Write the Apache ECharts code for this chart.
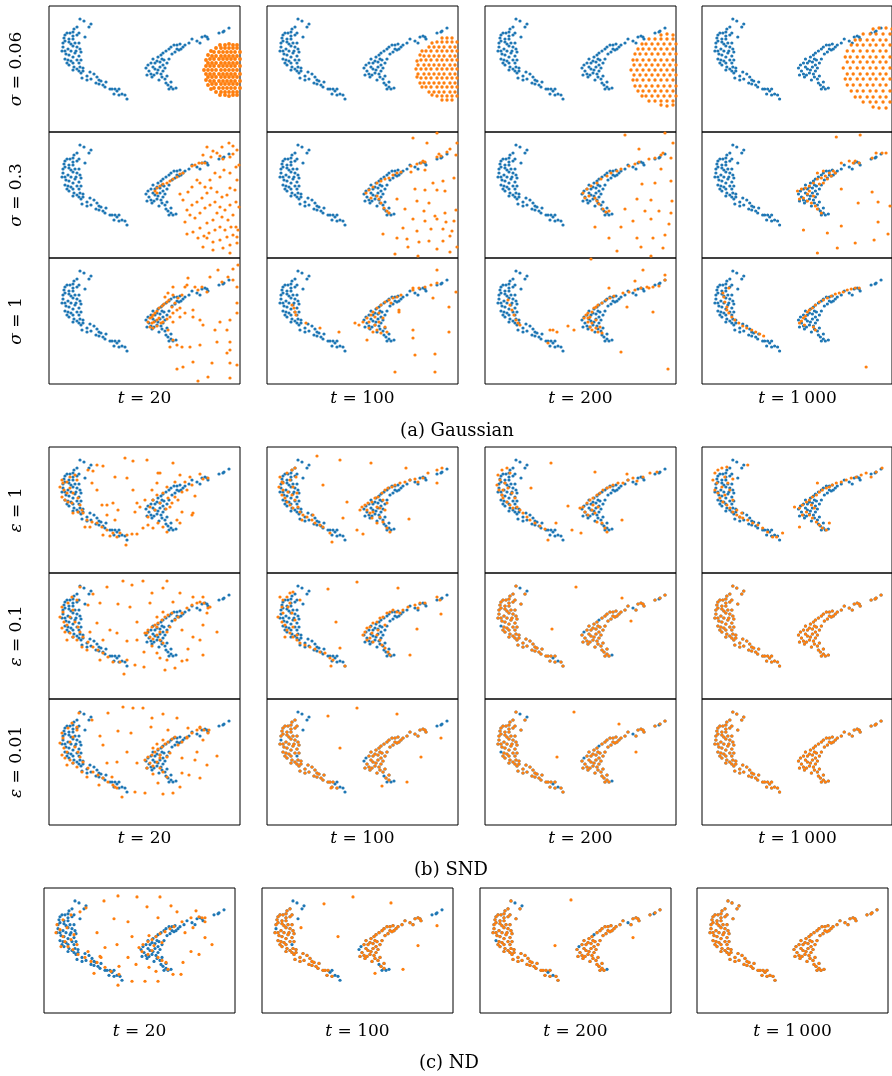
<!DOCTYPE html>
<html><head><meta charset="utf-8">
<script src="https://cdn.jsdelivr.net/npm/echarts@6/dist/echarts.min.js"></script>
<style>html,body{margin:0;padding:0;background:#fff}#c{width:892px;height:1076px}</style>
</head><body><div id="c"></div>
<script>
// ---- data (panel units: u 0..191 left->right, v 0..126 top->bottom) ----
const target = [31,13,35,15,42,18,40,21,28,21,25,23,24,26,21,27,18,27,16,29,24,30,28,29,30,27,36,31,15,32,20,33,24,33,16,35,20,36,14,37,22,38,26,37,30,37,14,41,24,40,28,41,31,43,19,43,13,45,16,45,22,45,27,45,32,46,26,47,17,48,20,49,24,51,30,50,16,53,19,54,22,55,28,54,32,54,18,57,24,57,30,57,20,59,25,61,31,61,28,63,34,62,30,65,34,65,41,66,24,64,32,67,45,68,38,70,33,72,48,71,42,73,38,74,50,74,52,75,57,76,50,78,54,79,47,77,56,81,61,83,63,83,66,83,70,83,68,85,73,88,65,88,76,89,78,93,70,89,
97,62,99,59,102,57,104,53,106,57,108,55,109,51,112,49,114,47,117,45,120,43,122,41,125,39,128,39,131,38,134,41,136,39,140,37,143,33,148,35,151,37,153,31,156,30,158,31,159,33,170,27,174,26,175,25,180,22,104,61,106,63,109,64,111,61,114,59,116,62,118,57,120,53,123,48,126,46,128,43,130,44,132,43,100,65,102,68,98,69,105,69,108,67,112,68,113,71,116,73,118,70,114,65,117,77,119,79,122,76,122,81,124,83,127,82,120,83,103,71,110,74,113,53,115,54,111,56];

const nearTargetA = [31,13,40,21,28,21,25,23,24,26,21,27,18,27,16,29,24,30,28,29,30,27,36,31,15,32,20,33,24,33,16,35,20,36,14,37,22,38,26,37,30,37,14,41,24,40,28,41,31,43,19,43,13,45,16,45,22,45,27,45,32,46,26,47,17,48,20,49,24,51,30,50,19,54,22,55,28,54,32,54,18,57,24,57,30,57,20,59,25,61,31,61,28,63,34,62,30,65,34,65,41,66,24,64,32,67,45,68,38,70,33,72,48,71,42,73,38,74,50,74,52,75,57,76,50,78,54,79,47,77,56,81,61,83,63,83,66,83,70,83,65,88,76,89,78,93,70,89,
97,62,102,57,104,53,106,57,108,55,109,51,112,49,117,45,120,43,122,41,125,39,128,39,131,38,134,41,136,39,140,37,143,33,151,37,153,31,156,30,158,31,159,33,170,27,175,25,180,22,104,61,106,63,109,64,111,61,114,59,116,62,118,57,120,53,123,48,126,46,128,43,130,44,132,43,100,65,102,68,98,69,105,69,108,67,112,68,113,71,116,73,118,70,114,65,117,77,119,79,122,76,122,81,124,83,120,83,103,71,110,74,113,53,115,54,111,56];

const nearTargetB = [28,21,25,23,24,26,21,27,18,27,16,29,24,30,28,29,30,27,15,32,20,33,24,33,16,35,20,36,14,37,22,38,26,37,30,37,24,40,28,41,31,43,19,43,13,45,16,45,22,45,27,45,32,46,26,47,17,48,20,49,24,51,30,50,16,53,19,54,22,55,28,54,32,54,18,57,24,57,20,59,25,61,31,61,28,63,34,62,30,65,34,65,41,66,24,64,32,67,45,68,38,70,33,72,48,71,42,73,38,74,50,74,52,75,57,76,50,78,54,79,47,77,56,81,61,83,63,83,66,83,65,88,70,89,
102,57,104,53,106,57,108,55,109,51,112,49,114,47,117,45,120,43,122,41,125,39,128,39,131,38,134,41,136,39,140,37,143,33,148,35,151,37,153,31,156,30,158,31,159,33,104,61,106,63,109,64,111,61,114,59,116,62,118,57,120,53,123,48,126,46,128,43,130,44,132,43,100,65,102,68,98,69,105,69,108,67,112,68,113,71,116,73,118,70,114,65,119,79,122,76,122,81,103,71,110,74,113,53,115,54,111,56];

// (a) Gaussian, sigma = 0.06
const g006_20 = [155,64,159,64,163,64,167,64,172,64,176,64,180,64,184,64,188,64,157,60,161,60,165,60,170,60,174,60,178,60,182,60,186,60,191,60,157,68,161,68,165,68,170,68,174,68,178,68,182,68,186,68,191,68,159,57,163,57,167,57,172,57,176,57,180,57,184,57,188,57,159,71,163,71,167,71,172,71,176,71,180,71,184,71,188,71,161,53,165,53,170,53,174,53,178,53,182,53,186,53,191,53,161,75,165,75,170,75,174,75,178,75,182,75,186,75,191,75,163,50,167,50,172,50,176,50,180,50,184,50,188,50,163,78,167,78,172,78,176,78,180,78,184,78,188,78,165,46,170,46,174,46,178,46,182,46,186,46,191,46,165,82,170,82,174,82,178,82,182,82,186,82,191,82,167,42,172,42,176,42,180,42,184,42,188,42,167,86,172,86,176,86,180,86,184,86,188,86,
157,54,157,74,159,49,159,79,162,45,162,83,171,39,176,39,180,38,184,39,188,39,171,89,176,89,180,90,184,89,188,89];
const g006_100 = [149,63,154,63,159,63,164,63,170,63,175,63,180,63,185,63,190,63,151,59,157,59,162,59,167,59,172,59,177,59,183,59,188,59,151,68,157,68,162,68,167,68,172,68,177,68,183,68,188,68,154,54,159,54,164,54,170,54,175,54,180,54,185,54,190,54,154,72,159,72,164,72,170,72,175,72,180,72,185,72,190,72,157,50,162,50,167,50,172,50,177,50,183,50,188,50,157,77,162,77,167,77,172,77,177,77,183,77,188,77,159,45,164,45,170,45,175,45,180,45,185,45,190,45,159,81,164,81,170,81,175,81,180,81,185,81,190,81,162,41,167,41,172,41,177,41,183,41,188,41,162,86,167,86,172,86,177,86,183,86,188,86,170,36,175,36,180,36,185,36,190,36,170,90,175,90,180,90,185,90,190,90,
150,55,150,71,153,49,153,77,155,45,155,81,165,37,165,89,175,32,180,32,185,32,175,94,180,94,185,94];
const g006_200 = [146,64,152,64,158,64,164,64,170,64,176,64,182,64,188,64,149,59,155,59,161,59,167,59,173,59,179,59,185,59,191,59,149,69,155,69,161,69,167,69,173,69,179,69,185,69,191,69,152,54,158,54,164,54,170,54,176,54,182,54,188,54,152,74,158,74,164,74,170,74,176,74,182,74,188,74,155,48,161,48,167,48,173,48,179,48,185,48,191,48,155,80,161,80,167,80,173,80,179,80,185,80,191,80,158,43,164,43,170,43,176,43,182,43,188,43,158,85,164,85,170,85,176,85,182,85,188,85,161,38,167,38,173,38,179,38,185,38,191,38,161,90,167,90,173,90,179,90,185,90,191,90,164,33,170,33,176,33,182,33,188,33,164,95,170,95,176,95,182,95,188,95,
148,54,148,74,150,48,150,80,153,43,153,85,157,38,157,90,176,29,182,28,188,29,176,99,182,100,188,99];
const g006_1000 = [142,62,149,62,156,62,162,62,169,62,175,62,182,62,189,62,146,56,152,56,159,56,166,56,172,56,179,56,185,56,146,68,152,68,159,68,166,68,172,68,179,68,185,68,149,51,156,51,162,51,169,51,175,51,182,51,189,51,149,73,156,73,162,73,169,73,175,73,182,73,189,73,152,45,159,45,166,45,172,45,179,45,185,45,152,79,159,79,166,79,172,79,179,79,185,79,156,39,162,39,169,39,175,39,182,39,189,39,156,85,162,85,169,85,175,85,182,85,189,85,159,34,166,34,172,34,179,34,185,34,159,91,166,91,172,91,179,91,185,91,162,28,169,28,175,28,182,28,189,28,162,96,169,96,175,96,182,96,189,96,
144,51,144,73,146,45,146,79,150,39,150,85,154,34,154,91,172,23,178,22,185,22,191,23,172,101,178,102,185,102];

// (a) Gaussian, sigma = 0.3
const g03_20 = [108,56,111,54,114,52,118,51,121,49,124,47,128,45,131,42,134,41,106,59,108,61,143,34,146,33,150,31,153,31,156,31,154,23,162,25,168,21,171,24,174,27,181,25,184,22,180,11,184,14,188,18,173,15,164,19,158,15,131,62,134,68,139,60,143,55,148,48,151,51,156,55,161,48,166,41,171,45,175,38,181,41,187,35,188,48,190,33,186,58,181,56,178,63,173,65,168,60,162,56,158,61,153,66,148,70,143,73,138,78,141,83,136,90,146,86,151,81,156,76,161,73,166,70,171,75,176,78,181,73,187,70,190,75,184,83,179,88,173,85,168,81,164,88,158,91,151,96,144,100,138,102,149,106,155,104,160,101,166,98,171,95,176,98,182,95,187,95,189,98,184,103,178,105,171,108,164,110,158,106,154,115,164,118,174,116,181,113,188,105,188,111,181,121];
const g03_100 = [99,61,102,58,106,55,110,51,114,49,118,47,122,46,126,43,130,41,134,40,104,66,110,64,112,67,114,71,117,76,120,79,122,81,144,34,150,32,154,31,156,29,158,30,170,25,172,22,174,24,180,20,183,17,144,40,158,38,146,6,160,11,170,1,190,11,189,23,166,51,176,49,187,46,148,57,158,58,170,58,178,59,130,67,150,69,162,71,138,77,157,79,168,84,178,81,189,78,146,87,158,89,170,87,179,90,187,89,136,96,150,99,164,97,176,97,185,99,116,102,130,106,140,107,152,110,162,109,176,109,183,104,141,115,170,117,183,120,190,115,128,122,151,124];
const g03_200 = [98,61,102,57,106,54,112,51,116,47,122,44,126,41,132,39,136,37,100,66,104,64,110,66,112,69,114,72,118,77,121,80,124,79,144,34,150,32,154,30,164,27,170,26,176,23,178,21,186,26,140,3,180,1,154,17,188,11,157,52,170,51,186,49,176,37,152,67,166,68,187,69,140,77,160,79,174,79,186,81,148,89,166,87,184,92,110,95,124,106,136,95,152,106,168,106,180,103,132,119,156,115,178,116,166,124];
const g03_1000 = [96,59,100,57,104,56,108,54,112,51,116,47,120,46,124,44,128,41,132,39,98,67,102,66,106,62,106,69,110,71,114,74,116,77,120,81,108,59,112,64,118,52,122,51,126,47,130,44,134,41,116,41,122,39,140,31,148,29,152,31,154,29,158,31,171,26,175,21,181,21,185,21,135,5,159,3,140,57,171,60,157,71,177,70,189,74,140,94,177,90,102,98,126,101,173,108,154,111,136,116,116,121,187,102];

// (a) Gaussian, sigma = 1
const g1_20 = [99,64,101,60,103,59,104,57,106,55,108,53,110,50,113,48,115,46,118,44,120,42,103,65,105,64,108,62,110,60,101,69,104,70,108,68,112,65,114,64,118,61,121,59,124,55,128,52,131,50,123,49,126,45,129,40,124,37,133,37,136,29,139,20,146,29,149,32,153,29,158,34,161,19,169,12,173,24,179,19,184,22,188,29,189,7,184,11,188,45,188,55,181,62,171,64,178,72,166,72,151,62,154,67,144,59,136,55,131,59,124,64,119,72,124,82,121,89,128,87,133,89,141,89,151,87,168,84,181,84,178,95,181,92,188,107,181,120,159,119,149,123,134,109,128,111,144,104,163,105,181,105,138,27,124,29,119,35,116,39,144,52];
const g1_100 = [25,47,27,50,28,54,29,57,39,65,53,70,72,74,88,65,92,67,96,64,100,60,102,64,104,57,106,54,108,59,110,50,112,55,114,47,116,60,118,44,122,42,126,40,130,39,134,37,102,70,106,74,110,72,114,75,100,82,118,69,120,74,108,67,112,64,124,45,132,52,132,54,146,30,152,30,158,29,164,27,170,25,146,32,170,12,189,34,182,49,166,40,146,72,182,74,146,80,148,97,168,96,128,114,168,114];
const g1_200 = [23,42,25,47,27,52,29,57,31,62,33,65,35,67,65,72,68,72,72,74,63,85,83,68,89,72,99,60,101,57,103,55,105,59,107,54,109,50,111,49,113,47,117,45,121,42,125,40,129,38,103,64,105,69,107,72,111,70,115,69,113,74,111,62,107,65,117,75,103,60,138,35,144,34,150,32,156,30,162,29,168,29,174,28,180,22,164,30,106,1,158,12,150,23,180,17,124,30,142,49,168,54,136,94,183,111];
const g1_1000 = [21,35,22,39,23,44,25,49,25,52,27,55,30,59,33,62,37,65,41,68,45,70,50,72,54,74,58,76,62,78,27,30,98,65,100,63,102,60,104,58,106,54,108,52,111,50,114,47,118,44,122,42,126,40,130,38,134,36,138,35,142,34,146,32,150,31,154,30,158,30,112,69,114,72,103,67,165,109];

// (b) SND, epsilon = 1
const e1_20 = [13,33,14,36,11,40,15,43,18,46,13,50,16,53,19,55,23,56,18,35,21,30,26,28,28,33,21,41,24,46,29,51,31,58,33,63,34,66,29,65,24,66,38,73,43,75,48,76,53,80,36,80,41,80,58,83,64,86,71,86,78,88,83,87,88,87,68,90,61,89,54,88,77,98,39,23,44,24,48,18,54,19,43,36,48,43,53,58,58,58,64,56,69,63,66,73,58,68,84,43,88,56,86,65,94,81,99,78,104,81,109,76,114,80,118,85,91,60,99,70,96,53,103,43,108,36,111,26,124,16,131,28,126,35,136,35,141,30,143,38,133,45,138,43,129,53,133,65,128,73,131,76,118,40,114,46,119,51,123,56,108,48,104,53,101,60,106,63,111,56,117,62,121,60,126,50,66,30,78,31,76,11,84,14,98,13,109,26,146,49,144,66,151,27,154,32,159,31,143,68];
const e1_100 = [13,30,15,35,12,40,16,43,15,48,18,51,20,55,23,58,26,61,20,26,25,23,28,21,23,33,26,40,30,46,28,53,31,60,33,65,36,68,40,70,45,73,48,76,53,78,56,80,63,86,65,95,21,45,25,48,16,36,29,30,46,68,35,73,50,9,73,13,56,38,80,55,76,71,90,83,96,87,93,63,95,60,98,58,101,56,105,55,108,51,111,50,115,46,118,43,121,41,125,40,128,38,100,63,103,66,106,65,110,60,113,61,113,70,116,75,120,81,123,85,105,71,110,76,133,36,138,35,143,33,148,32,151,35,156,31,161,26,170,23,175,21,170,36,139,21,142,72,104,16,116,53,120,56,118,63];
const e1_200 = [13,28,15,33,12,38,14,43,17,48,18,51,22,55,25,58,28,61,17,23,22,21,25,26,20,36,23,41,27,46,30,51,32,60,35,63,38,66,42,70,45,73,50,76,55,79,60,82,63,93,71,76,18,43,66,16,46,41,83,59,87,83,96,86,110,25,137,73,95,61,98,60,102,56,105,53,108,51,112,48,115,46,118,43,122,41,125,40,128,38,100,65,103,68,107,63,110,66,112,75,117,76,120,81,122,85,108,58,113,60,133,36,138,36,143,33,148,31,152,34,158,30,165,26,172,25,142,27];
const e1_1000 = [13,26,16,23,20,21,25,20,11,33,15,36,13,43,16,46,18,51,21,55,25,58,28,61,31,65,35,68,38,70,41,71,46,73,51,76,56,78,61,81,66,85,71,90,23,30,26,36,28,43,23,48,31,53,35,63,40,66,20,40,46,18,31,32,81,86,75,90,93,60,98,61,101,58,105,55,108,53,111,50,115,48,118,45,121,43,125,41,128,40,131,38,101,68,105,65,108,68,111,71,115,75,118,78,121,81,125,83,98,80,128,76,116,36,135,36,140,35,145,33,150,31,155,30,160,28,165,26,170,30,175,25,181,21,110,58,113,61];

// (b) SND, epsilon = 0.1
const e01_20 = [13,34,14,39,11,44,15,49,18,52,13,55,16,59,21,60,24,64,28,67,19,30,23,24,28,27,24,37,21,44,26,49,29,54,31,59,34,64,39,69,44,74,49,77,54,80,51,87,59,84,64,89,71,89,78,87,18,67,33,74,38,77,31,14,44,21,58,14,74,8,83,12,94,8,103,20,118,8,114,15,124,29,131,20,144,24,154,24,39,32,51,30,69,31,81,34,101,30,88,49,48,50,41,59,61,57,68,60,54,67,78,68,88,67,98,60,108,54,118,59,133,57,144,64,154,52,158,40,168,59,151,67,139,76,133,88,138,87,154,82,95,79,108,80,118,87,126,95,116,97,95,94,86,92,75,101,111,85,103,73,96,60,99,57,103,54,106,52,109,50,113,47,116,44,119,42,123,40,101,64,104,66,108,62,111,67,114,70,111,59,121,54,126,47,129,44,133,40,138,35,143,32,148,30,151,29,155,30,159,35,161,34,108,44,114,39];
const e01_100 = [13,24,16,27,20,24,23,20,26,19,15,34,11,44,15,49,18,52,20,57,23,60,26,64,30,67,33,70,38,72,43,74,48,76,53,79,58,80,63,85,66,87,21,34,25,40,28,47,26,54,30,62,16,40,23,30,33,27,18,64,73,75,64,93,78,93,69,49,61,16,90,9,96,62,98,59,100,55,103,54,106,50,110,49,113,45,116,44,120,40,123,39,126,37,130,39,100,67,103,65,106,69,110,62,113,67,115,72,118,75,121,79,123,82,105,60,111,57,133,40,136,37,141,34,148,32,153,30,158,30,151,35,170,24,173,27,150,56,174,41,143,82,131,15,118,52];
const e01_200_out = [91,14,67,56,137,25,146,48];

// (b) SND, epsilon = 0.01
const e001_20 = [13,34,14,39,11,44,15,49,18,53,13,56,16,59,21,61,24,64,28,68,19,29,23,24,28,28,24,38,21,43,26,48,29,53,31,58,34,63,39,69,44,73,49,76,54,79,59,83,64,86,50,86,18,66,33,73,38,78,73,98,66,88,30,14,43,21,59,14,74,8,84,9,94,9,103,19,114,15,128,19,139,29,151,28,160,31,51,37,69,32,82,34,102,28,119,31,138,39,154,41,168,57,158,66,148,53,133,59,146,61,111,56,88,64,68,63,54,46,58,64,98,69,109,84,118,78,133,74,140,76,151,79,131,88,124,94,114,95,96,94,86,93,104,75,78,53,63,78,68,89,28,31,96,61,99,58,103,56,106,53,109,50,113,48,116,45,119,43,123,40,126,38,101,64,104,67,108,63,111,69,114,73,111,59,118,58,121,54,129,46,133,43,138,38,143,34,148,31,151,29,155,31,159,34,108,45,114,41,104,49];
const e001_100_out = [90,9,61,17,130,15,73,49,154,58,174,39,140,83,115,87,64,89];
const e001_200_out = [89,13,72,58,134,25,151,53];

// (c) ND
const nd_20 = [13,37,16,42,12,45,19,49,21,54,24,59,29,62,34,67,41,70,47,74,53,75,61,80,67,84,75,87,19,32,27,27,36,24,42,20,23,40,30,47,27,52,33,57,44,64,56,69,17,59,60,13,74,8,93,9,116,9,103,19,127,18,70,31,84,34,114,30,133,24,152,23,161,34,53,45,88,49,73,57,61,60,57,70,84,70,75,79,92,77,105,80,112,84,124,82,139,75,155,67,161,50,168,57,147,64,137,87,129,87,101,94,114,94,74,98,88,94,50,86,149,40,141,45,118,55,158,30,95,60,99,57,104,54,108,52,112,49,116,46,121,44,126,41,130,39,98,64,104,67,108,63,114,70,118,73,122,75,110,58,138,34,147,30,155,29,161,30,105,48];
const nd_100_out = [91,9,62,16,129,15,76,49,156,58,175,38,141,82,113,86,39,40];
const nd_200_out = [91,12,75,58,153,50];

// labels
const timeLabels = ['20', '100', '200', '1\u2009000'];
const rowSymbols = ['σ', 'σ', 'σ', 'ε', 'ε', 'ε'];
const rowValues = ['0.06', '0.3', '1', '1', '0.1', '0.01'];
const sectionTitles = ['(a) Gaussian', '(b) SND', '(c) ND'];

// ---- layout ----
const colLeftAB = [49, 267, 485, 702];
const colLeftC = [44, 262, 480, 697];
const rowTops = [6, 132, 258, 447, 573, 699];
const topC = 888;
const PW = 191, PH = 126;

const orangeSets = [
  [g006_20, g006_100, g006_200, g006_1000],
  [g03_20, g03_100, g03_200, g03_1000],
  [g1_20, g1_100, g1_200, g1_1000],
  [e1_20, e1_100, e1_200, e1_1000],
  [e01_20, e01_100, nearTargetA.concat(e01_200_out), target],
  [e001_20, nearTargetB.concat(e001_100_out), nearTargetA.concat(e001_200_out), target],
  [nd_20, nearTargetB.concat(nd_100_out), nearTargetA.concat(nd_200_out), target]
];

function pairs(a) { const r = []; for (let i = 0; i < a.length; i += 2) r.push([a[i], a[i + 1]]); return r; }

const panels = [];
for (let r = 0; r < 7; r++) {
  for (let c = 0; c < 4; c++) {
    if (r < 6) panels.push({ left: colLeftAB[c], top: rowTops[r], h: PH, o: orangeSets[r][c] });
    else panels.push({ left: colLeftC[c], top: topC, h: 125, o: orangeSets[r][c] });
  }
}

const FONT = 'DejaVu Serif, Liberation Serif, serif';
const grid = [], xAxis = [], yAxis = [], series = [];
const targetPts = pairs(target);
panels.forEach((p, i) => {
  grid.push({ left: p.left, top: p.top, width: PW, height: p.h, show: true, borderColor: '#000', borderWidth: 1, backgroundColor: 'rgba(0,0,0,0)' });
  xAxis.push({ type: 'value', gridIndex: i, min: 0, max: 191, show: false });
  yAxis.push({ type: 'value', gridIndex: i, min: 0, max: 126, inverse: true, show: false });
  series.push({ type: 'scatter', xAxisIndex: i, yAxisIndex: i, data: targetPts, symbolSize: 3.2, itemStyle: { color: '#1f77b4', opacity: 1 }, silent: true, z: 2, clip: true });
  series.push({ type: 'scatter', xAxisIndex: i, yAxisIndex: i, data: pairs(p.o), symbolSize: i === 0 ? 3.9 : (i < 4 ? 3.4 : 3.2), itemStyle: { color: '#ff7f0e', opacity: 1 }, silent: true, z: 3, clip: true });
});

const graphic = [];
function txt(x, y, text, size, rot) {
  const r = { i: { fontStyle: 'italic', fontFamily: FONT, fontSize: size, fill: '#000' }, n: { fontFamily: FONT, fontSize: size, fill: '#000' } };
  return { type: 'text', x: x, y: y, rotation: rot || 0, silent: true,
    style: { text: text, rich: r, fontFamily: FONT, fontSize: size, fill: '#000', align: 'center', verticalAlign: 'middle', textAlign: 'center', textVerticalAlign: 'middle' } };
}
const rowCenters = [69, 195, 321, 510, 636, 762];
rowCenters.forEach((y, k) => graphic.push(txt(17, y, '{i|' + rowSymbols[k] + '}{n| = ' + rowValues[k] + '}', 17, Math.PI / 2)));
const labelY = [399, 839, 1032];
labelY.forEach((y, s) => {
  const lefts = s < 2 ? colLeftAB : colLeftC;
  lefts.forEach((l, c) => graphic.push(txt(l + PW / 2, y, '{i|t}{n| = ' + timeLabels[c] + '}', 17, 0)));
});
[[457, 431], [451, 870], [449, 1063]].forEach((p, s) => graphic.push(txt(p[0], p[1], '{n|' + sectionTitles[s] + '}', 18, 0)));

const chart = echarts.init(document.getElementById('c'), null, { renderer: 'canvas' });
chart.setOption({ animation: false, backgroundColor: '#fff', grid, xAxis, yAxis, series, graphic });
</script>
</body></html>
